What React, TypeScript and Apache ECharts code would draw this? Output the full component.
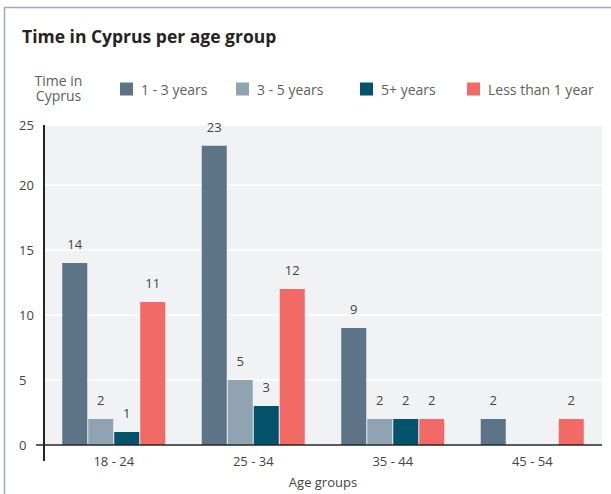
import React, { useEffect, useRef } from 'react';
import * as echarts from 'echarts';

const categories = ['18 - 24', '25 - 34', '35 - 44', '45 - 54'];
const seriesNames = ['1 - 3 years', '3 - 5 years', '5+ years', 'Less than 1 year'];
const oneToThree = [14, 23, 9, 2];
const threeToFive = [2, 5, 2, null];
const fivePlus = [1, 3, 2, null];
const lessThanOne = [11, 12, 2, 2];
const yTicks = [0, 5, 10, 15, 20, 25];
const legendTitleLines = ['Time in', 'Cyprus'];

const colors = ['#5d7487', '#90a3b0', '#03536c', '#f26a66'];
const FONT = '"Open Sans", "Noto Sans", sans-serif';

export default function App() {
  const ref = useRef<HTMLDivElement>(null);
  useEffect(() => {
    const chart = echarts.init(ref.current!, null, { renderer: 'svg' });
    const gridLeft = 44, gridTop = 125, gridRight = 9, gridBottom = 49;
    const W = 611, H = 494;
    const values = [oneToThree, threeToFive, fivePlus, lessThanOne];
    const legendLefts = [120, 236, 360, 467];
    const axisColor = '#252423';
    const borderColor = '#9aacba';
    chart.setOption({
      animation: false,
      textStyle: { fontFamily: FONT },
      title: {
        text: 'Time in Cyprus per age group',
        left: 22,
        top: 27,
        padding: 0,
        textStyle: { fontSize: 17.5, fontWeight: 'bold', color: '#252423', fontFamily: FONT },
      },
      legend: seriesNames.map((n, i) => ({
        data: [n],
        left: legendLefts[i],
        top: 82,
        padding: 0,
        itemWidth: 13,
        itemHeight: 13,
        icon: 'rect',
        selectedMode: false,
        textStyle: { fontSize: 14, color: '#605e5c', fontFamily: FONT, padding: [0, 0, 0, 3] },
      })),
      grid: {
        left: gridLeft,
        right: gridRight,
        top: gridTop,
        bottom: gridBottom,
        show: true,
        backgroundColor: '#f1f2f4',
        borderWidth: 0,
      },
      xAxis: {
        type: 'category',
        data: categories,
        axisLine: { show: false },
        axisTick: { show: false },
        axisLabel: { fontSize: 13, color: '#444', margin: 9, fontFamily: FONT },
        name: 'Age groups',
        nameLocation: 'middle',
        nameGap: 30,
        nameTextStyle: { fontSize: 13, color: '#444', fontFamily: FONT },
      },
      yAxis: {
        type: 'value',
        min: 0,
        max: 24.6,
        interval: 5,
        axisLine: { show: false },
        axisTick: { show: false },
        splitLine: { lineStyle: { color: '#ffffff', width: 1.5 } },
        axisLabel: {
          fontSize: 13,
          color: '#444',
          align: 'left',
          margin: 25,
          fontFamily: FONT,
          formatter: (v: number) => {
            const t = yTicks.find((k) => Math.abs(k - v) < 0.5);
            return t !== undefined ? String(t) : '';
          },
        },
      },
      series: seriesNames.map((n, i) => ({
        type: 'bar',
        name: n,
        data: values[i],
        barWidth: 25,
        barGap: '4%',
        itemStyle: { color: colors[i] },
        label: {
          show: true,
          position: 'top',
          distance: 12,
          fontSize: 13,
          color: '#444',
          fontFamily: FONT,
        },
      })),
      graphic: [
        ...legendTitleLines.map((t, i) => ({
          type: 'text',
          x: 58.5,
          y: 80.5 + i * 15,
          z: 100,
          style: {
            text: t,
            fontSize: 14,
            lineHeight: 14,
            fill: '#605e5c',
            align: 'center',
            verticalAlign: 'middle',
            fontFamily: FONT,
          },
        })),
        {
          type: 'line',
          z: 100,
          shape: { x1: 4.5, y1: 7, x2: 4.5, y2: H },
          style: { stroke: borderColor, lineWidth: 1.5 },
        },
        {
          type: 'line',
          z: 100,
          shape: { x1: 4, y1: 7.5, x2: W, y2: 7.5 },
          style: { stroke: borderColor, lineWidth: 1.5 },
        },
        {
          type: 'line',
          z: 100,
          shape: { x1: gridLeft, y1: gridTop, x2: gridLeft, y2: H - gridBottom + 16 },
          style: { stroke: axisColor, lineWidth: 2 },
        },
        {
          type: 'line',
          z: 100,
          shape: { x1: gridLeft - 8, y1: H - gridBottom, x2: W - gridRight, y2: H - gridBottom },
          style: { stroke: axisColor, lineWidth: 1.5 },
        },
      ],
    });
    return () => chart.dispose();
  }, []);
  return (
    <div
      ref={ref}
      style={{ position: 'fixed', left: 0, top: 0, width: 611, height: 494, background: '#fff' }}
    />
  );
}
